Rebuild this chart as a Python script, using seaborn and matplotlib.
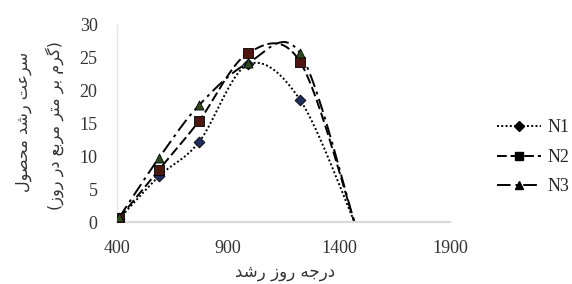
import numpy as np
import pandas as pd
import matplotlib
matplotlib.use("Agg")
import matplotlib.pyplot as plt
from matplotlib.lines import Line2D
import seaborn as sns

# داده‌ها (خوانده شده از نمودار)
gdd = [410, 590, 770, 990, 1225, 1470]
n1 = [0.5, 7.0, 12.2, 24.0, 18.6, 0.0]
n2 = [0.6, 8.0, 15.4, 25.7, 24.4, 0.0]
n3 = [0.7, 9.8, 17.8, 24.2, 25.7, 0.0]
series_names = ["N1", "N2", "N3"]
x_ticks = [400, 900, 1400, 1900]
y_ticks = [0, 5, 10, 15, 20, 25, 30]

ylabel_1 = "سرعت رشد محصول"
ylabel_2 = "(گرم بر متر مربع در روز)"
xlabel = "درجه روز رشد"

# شکل‌دهی ساده حروف فارسی (matplotlib خودش این کار را نمی‌کند)
FORMS = {
    "ب": "\uFE8F\uFE90\uFE91\uFE92", "ت": "\uFE95\uFE96\uFE97\uFE98",
    "ج": "\uFE9D\uFE9E\uFE9F\uFEA0", "ح": "\uFEA1\uFEA2\uFEA3\uFEA4",
    "د": "\uFEA9\uFEAA", "ر": "\uFEAD\uFEAE", "ز": "\uFEAF\uFEB0",
    "س": "\uFEB1\uFEB2\uFEB3\uFEB4", "ش": "\uFEB5\uFEB6\uFEB7\uFEB8",
    "ص": "\uFEB9\uFEBA\uFEBB\uFEBC", "ع": "\uFEC9\uFECA\uFECB\uFECC",
    "ل": "\uFEDD\uFEDE\uFEDF\uFEE0", "م": "\uFEE1\uFEE2\uFEE3\uFEE4",
    "ه": "\uFEE9\uFEEA\uFEEB\uFEEC", "و": "\uFEED\uFEEE",
    "گ": "\uFB92\uFB93\uFB94\uFB95",
}


def fa(text):
    out = []
    for i, c in enumerate(text):
        if c not in FORMS:
            out.append(c)
            continue
        f = FORMS[c]
        prev = text[i - 1] if i > 0 else ""
        nxt = text[i + 1] if i + 1 < len(text) else ""
        pj = prev in FORMS and len(FORMS[prev]) == 4
        nj = len(f) == 4 and nxt in FORMS
        if pj and nj:
            out.append(f[3])
        elif pj:
            out.append(f[1])
        elif nj:
            out.append(f[2])
        else:
            out.append(f[0])
    vis = "".join(reversed(out))
    return vis.translate(str.maketrans("()", ")("))


def smooth(xs, ys, n=40):
    # منحنی نرم شبیه اکسل (Catmull-Rom)
    p = np.column_stack([xs, ys]).astype(float)
    p = np.vstack([p[0], p, p[-1]])
    pts = []
    for i in range(1, len(p) - 2):
        p0, p1, p2, p3 = p[i - 1], p[i], p[i + 1], p[i + 2]
        c1 = p1 + (p2 - p0) / 6
        c2 = p2 - (p3 - p1) / 6
        t = np.linspace(0, 1, n)[:, None]
        b = ((1 - t) ** 3) * p1 + 3 * ((1 - t) ** 2) * t * c1 + 3 * (1 - t) * t ** 2 * c2 + t ** 3 * p2
        pts.append(b if i == 1 else b[1:])
    return np.vstack(pts)


sns.set_theme(style="white")
plt.rcParams["font.family"] = ["Liberation Serif", "DejaVu Sans"]

fig = plt.figure(figsize=(5.72, 2.84), dpi=100)
ax = fig.add_axes([0.2045, 0.218, 0.582, 0.694])

styles = {
    "N1": dict(ls=(0, (1, 1.2)), marker="D", ms=5.5, color="#1f2d5a"),
    "N2": dict(ls=(0, (5, 2)), marker="s", ms=7, color="#4e1610"),
    "N3": dict(ls=(0, (7, 2.5, 1.5, 2.5)), marker="^", ms=6.5, color="#2f4a1f"),
}

handles = []
for name, vals in zip(series_names, [n1, n2, n3]):
    st = styles[name]
    curve = smooth(gdd, vals)
    cdf = pd.DataFrame({"x": curve[:, 0], "y": curve[:, 1]})
    sns.lineplot(data=cdf, x="x", y="y", sort=False, ax=ax, color="black",
                 lw=1.4, linestyle=st["ls"], estimator=None)
    # نقطه پایانی روی محور بدون نشانگر دیده می‌شود
    pdf = pd.DataFrame({"x": gdd[:-1], "y": vals[:-1]})
    sns.scatterplot(data=pdf, x="x", y="y", ax=ax, marker=st["marker"],
                    s=st["ms"] ** 2, color=st["color"], edgecolor="black",
                    linewidth=0.6, zorder=3)
    handles.append(Line2D([], [], color="black", lw=1.4, linestyle=st["ls"],
                          marker=st["marker"], ms=st["ms"] * 0.9,
                          markerfacecolor="black", markeredgecolor="black"))

ax.set_xlim(400, 1900)
ax.set_ylim(0, 30)
ax.set_xticks(x_ticks)
ax.set_yticks(y_ticks)
ax.tick_params(axis="both", labelsize=13, length=0, colors="#333333")
ax.tick_params(axis="y", pad=14)
ax.tick_params(axis="x", pad=13)
for s in ["top", "right"]:
    ax.spines[s].set_visible(False)
ax.spines["bottom"].set_color("#d9d9d9")
ax.spines["bottom"].set_linewidth(1.6)
ax.spines["left"].set_color("#e6e6e6")
ax.spines["left"].set_linewidth(1.0)
ax.set_xlabel("")
ax.set_ylabel("")

fig.text(24 / 572, 1 - 122 / 284, fa(ylabel_1), rotation=90, ha="center", va="center",
         fontsize=11.5, family="DejaVu Sans", color="#333333")
fig.text(55 / 572, 1 - 126 / 284, fa(ylabel_2), rotation=90, ha="center", va="center",
         fontsize=11.5, family="DejaVu Sans", color="#333333")
fig.text(285 / 572, 1 - 272 / 284, fa(xlabel), ha="center", va="center",
         fontsize=12, family="DejaVu Sans", color="#333333")

fig.legend(handles, series_names, loc="upper left", bbox_to_anchor=(490 / 572, 1 - 112 / 284),
           frameon=False, fontsize=13, handlelength=2.4, handletextpad=0.4,
           labelspacing=0.7, borderaxespad=0)

fig.savefig("out.png", dpi=100)
